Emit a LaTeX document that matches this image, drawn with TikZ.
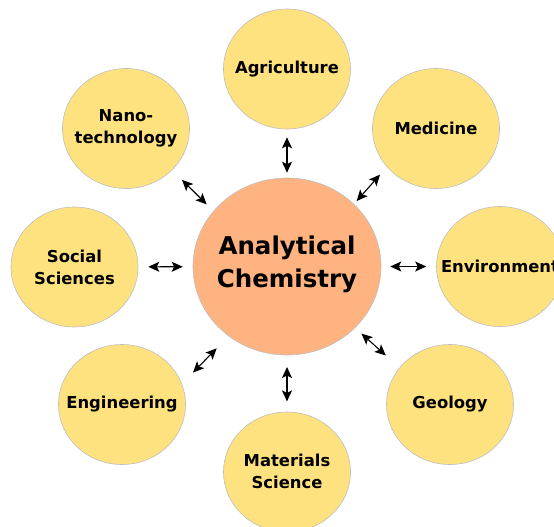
\documentclass[tikz,border=0pt]{standalone}
\usepackage{fontspec}
\setmainfont{DejaVu Sans}
\usetikzlibrary{shapes.geometric,arrows.meta}
\definecolor{outerfill}{RGB}{255,226,128}
\definecolor{corefill}{RGB}{255,179,128}
\definecolor{rim}{RGB}{190,190,190}
\tikzset{
  field/.style={ellipse,draw=rim,line width=0.6pt,fill=outerfill,inner sep=0pt,
    minimum width=127pt,minimum height=120pt},
  core/.style={ellipse,draw=rim,line width=0.6pt,fill=corefill,inner sep=0pt,
    minimum width=188pt,minimum height=177pt},
  ftext/.style={align=center,font=\fontsize{16.4}{22}\selectfont\bfseries,inner sep=0pt},
  ctext/.style={align=center,font=\fontsize{24.5}{33}\selectfont\bfseries,inner sep=0pt},
  link/.style={line width=1.1pt,{Stealth[length=11pt,width=10pt,inset=2.5pt]}-{Stealth[length=11pt,width=10pt,inset=2.5pt]}}
}
\begin{document}
\begin{tikzpicture}[x=1pt,y=-1pt]
\useasboundingbox (0,0) rectangle (554,527);
\clip (0,0) rectangle (554,527);
\node[core,label={[ctext,yshift=2pt]center:Analytical\\Chemistry}] (chem) at (287,266.5) {};
\node[field,label={[ftext]center:Agriculture}] (agri) at (287,69) {};
\node[field,label={[ftext]center:Medicine}] (med) at (436,128.5) {};
\node[field,label={[ftext]center:Environment}] (env) at (500,266.5) {};
\node[field,label={[ftext]center:Geology}] (geo) at (450,404.5) {};
\node[field,label={[ftext,yshift=1pt]center:Materials\\Science}] (mat) at (287,472) {};
\node[field,label={[ftext]center:Engineering}] (eng) at (122,404.5) {};
\node[field,label={[ftext]center:Social\\Sciences}] (soc) at (74.5,267) {};
\node[field,label={[ftext]center:Nano-\\technology}] (nano) at (126,128.5) {};
\draw[link,shorten <=5pt,shorten >=8pt] (chem) -- (agri);
\draw[link,shorten <=4pt,shorten >=10.3pt] (chem.43.8) -- (med.218.8);
\draw[link,shorten <=9pt,shorten >=10pt] (chem) -- (env);
\draw[link,shorten <=8.5pt,shorten >=18.3pt] (chem.318.9) -- (geo.144.5);
\draw[link,shorten <=11.7pt,shorten >=10.3pt] (chem) -- (mat);
\draw[link,shorten <=17pt,shorten >=15.8pt] (chem.230) -- (eng.19.9);
\draw[link,shorten <=10pt,shorten >=10pt] (chem) -- (soc);
\draw[link,shorten <=9.4pt,shorten >=13.8pt] (chem.143.1) -- (nano.318.2);
\end{tikzpicture}
\end{document}
